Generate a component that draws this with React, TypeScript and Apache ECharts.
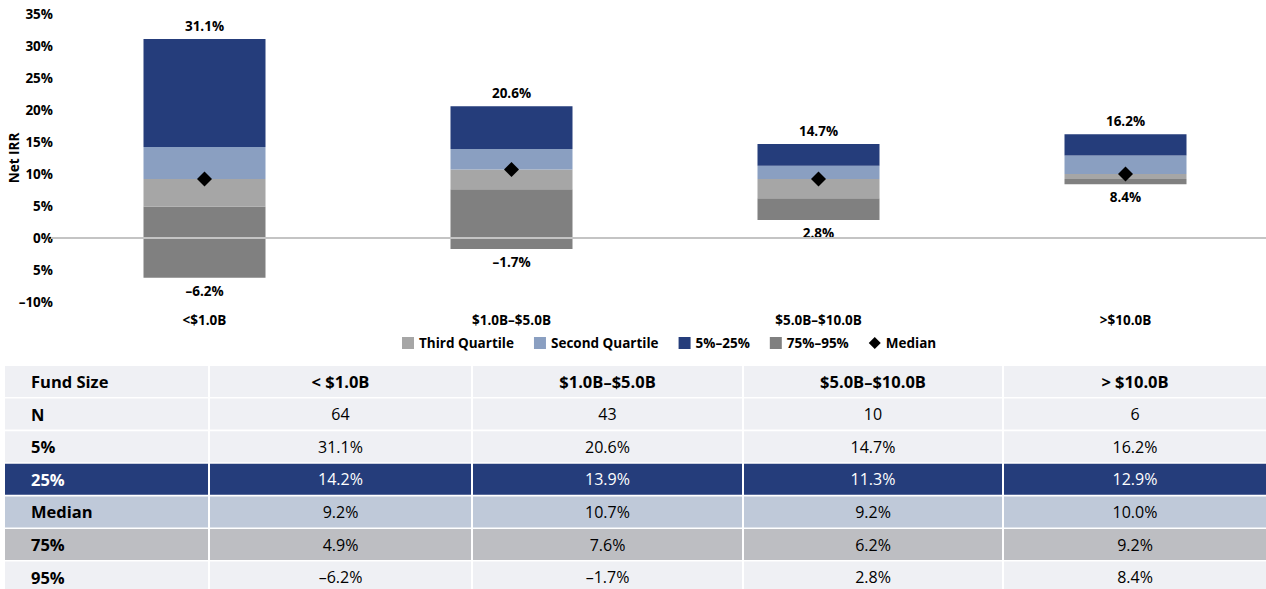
import React, { useEffect, useRef } from "react";
import * as echarts from "echarts";

const categories = ["<$1.0B", "$1.0B–$5.0B", "$5.0B–$10.0B", ">$10.0B"];
const tableHeaders = ["< $1.0B", "$1.0B–$5.0B", "$5.0B–$10.0B", "> $10.0B"];
const nCounts = [64, 43, 10, 6];
const p5 = [31.1, 20.6, 14.7, 16.2];
const p25 = [14.2, 13.9, 11.3, 12.9];
const median = [9.2, 10.7, 9.2, 10.0];
const p75 = [4.9, 7.6, 6.2, 9.2];
const p95 = [-6.2, -1.7, 2.8, 8.4];
const yTickValues = [35, 30, 25, 20, 15, 10, 5, 0, -5, -10];
const yTickLabels = ["35%", "30%", "25%", "20%", "15%", "10%", "5%", "0%", "5%", "–10%"];
const legendNames = ["Third Quartile", "Second Quartile", "5%–25%", "75%–95%", "Median"];
const rowLabels = ["N", "5%", "25%", "Median", "75%", "95%"];

const NAVY = "#253d7b";
const SECOND = "#8a9fc1";
const THIRD = "#a6a6a6";
const DARK = "#808080";
const FONT = "'Open Sans', 'Noto Sans', sans-serif";
const TFONT = "'Open Sans', 'Noto Sans', sans-serif";

const pct = (v: number) => (v < 0 ? "–" : "") + Math.abs(v).toFixed(1) + "%";
const diff = (a: number[], b: number[]) => a.map((v, i) => Math.round((v - b[i]) * 10) / 10);

function buildTable() {
  const colX = [5, 210, 473, 744, 1004];
  const colW = [203, 261, 269, 258, 262];
  const rowTop = 366;
  const pitch = 32.6;
  const rowH = 31;
  const rows: { label: string; values: string[]; bg: string; color: string }[] = [
    { label: "Fund Size", values: tableHeaders, bg: "#eff0f4", color: "#000" },
    { label: rowLabels[0], values: nCounts.map(String), bg: "#eff0f4", color: "#000" },
    { label: rowLabels[1], values: p5.map(pct), bg: "#eff0f4", color: "#000" },
    { label: rowLabels[2], values: p25.map(pct), bg: NAVY, color: "#fff" },
    { label: rowLabels[3], values: median.map(pct), bg: "#bfc9d9", color: "#000" },
    { label: rowLabels[4], values: p75.map(pct), bg: "#bdbec2", color: "#000" },
    { label: rowLabels[5], values: p95.map(pct), bg: "#eff0f4", color: "#000" },
  ];
  const els: any[] = [];
  rows.forEach((r, ri) => {
    const y = rowTop + ri * pitch;
    for (let c = 0; c < 5; c++) {
      els.push({
        type: "rect",
        shape: { x: colX[c], y, width: colW[c], height: rowH },
        style: { fill: r.bg },
        silent: true,
      });
      const isLabel = c === 0;
      const txt = isLabel ? r.label : r.values[c - 1];
      els.push({
        type: "text",
        x: isLabel ? colX[c] + 26 : colX[c] + colW[c] / 2,
        y: y + rowH / 2,
        style: {
          text: txt,
          fill: r.color,
          font: `${isLabel || ri === 0 ? "bold 16.5px" : "16px"} ${TFONT}`,
          align: isLabel ? "left" : "center",
          verticalAlign: "middle",
        },
        silent: true,
      });
    }
  });
  return els;
}

export default function App() {
  const ref = useRef<HTMLDivElement>(null);
  useEffect(() => {
    document.body.style.margin = "0";
    if (!ref.current) return;
    const chart = echarts.init(ref.current, null, { renderer: "svg" });
    const labelStyle = { fontFamily: FONT, fontWeight: "bold" as const, fontSize: 13.5, color: "#000" };
    const stackCommon = { type: "bar", stack: "box", stackStrategy: "all", barWidth: 122 };
    chart.setOption({
      animation: false,
      grid: { left: 51, top: 14, width: 1228, height: 288, outerBoundsMode: "none", containLabel: false },
      legend: {
        data: legendNames.map((n) => ({ name: n, icon: n === "Median" ? "diamond" : "rect" })),
        top: 331,
        left: 397,
        itemWidth: 12,
        itemHeight: 12,
        itemGap: 20,
        textStyle: { ...labelStyle },
      },
      xAxis: {
        type: "category",
        data: categories,
        axisLine: { show: false },
        axisTick: { show: false },
        axisLabel: { ...labelStyle, margin: 11 },
      },
      yAxis: {
        type: "value",
        min: -10,
        max: 35,
        interval: 5,
        name: "Net IRR",
        nameLocation: "middle",
        nameRotate: 90,
        nameGap: 30,
        nameMoveOverlap: false,
        nameTextStyle: { ...labelStyle },
        axisLine: { show: false },
        axisTick: { show: false },
        splitLine: { show: false },
        axisLabel: {
          ...labelStyle,
          margin: -2,
          formatter: (v: number) => yTickLabels[yTickValues.indexOf(v)] ?? "",
        },
      },
      series: [
        {
          ...stackCommon,
          name: "base",
          data: p95,
          itemStyle: { color: "transparent" },
          silent: true,
          markLine: {
            silent: true,
            symbol: "none",
            label: { show: false },
            lineStyle: { color: "#c4c4c4", width: 2, type: "solid" },
            data: [{ yAxis: 0 }],
          },
        },
        {
          ...stackCommon,
          name: "75%–95%",
          data: diff(p75, p95),
          itemStyle: { color: DARK },
          label: {
            show: true,
            position: "bottom",
            distance: 6,
            ...labelStyle,
            formatter: (p: any) => pct(p95[p.dataIndex]),
          },
        },
        { ...stackCommon, name: "Third Quartile", data: diff(median, p75), itemStyle: { color: THIRD } },
        { ...stackCommon, name: "Second Quartile", data: diff(p25, median), itemStyle: { color: SECOND } },
        {
          ...stackCommon,
          name: "5%–25%",
          data: diff(p5, p25),
          itemStyle: { color: NAVY },
          label: {
            show: true,
            position: "top",
            distance: 6,
            ...labelStyle,
            formatter: (p: any) => pct(p5[p.dataIndex]),
          },
        },
        {
          type: "scatter",
          name: "Median",
          data: median,
          symbol: "diamond",
          symbolSize: 15,
          itemStyle: { color: "#000", opacity: 1 },
          z: 5,
        },
      ],
      graphic: buildTable(),
    });
    return () => chart.dispose();
  }, []);
  return <div ref={ref} style={{ width: 1266, height: 589 }} />;
}
